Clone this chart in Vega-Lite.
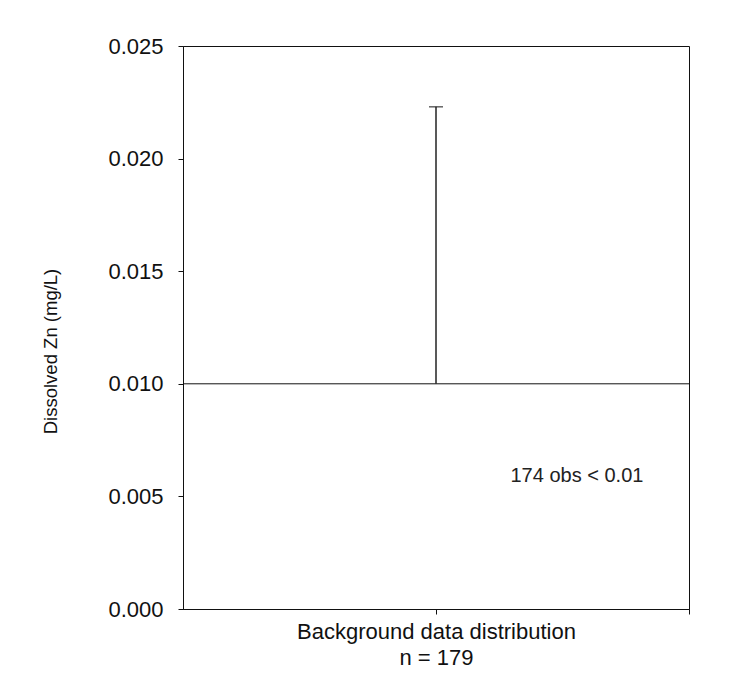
{
  "$schema": "https://vega.github.io/schema/vega-lite/v6.json",
  "width": 506,
  "height": 563,
  "autosize": {"type": "none"},
  "padding": {"left": 183, "top": 46, "right": 67, "bottom": 84},
  "background": "white",
  "config": {
    "font": "Liberation Sans",
    "view": {"stroke": "#111", "strokeWidth": 1},
    "axis": {"grid": false, "domainColor": "#111", "tickColor": "#111", "labelColor": "#111", "titleColor": "#111", "titleFontWeight": "normal"}
  },
  "datasets": {
    "base": [{"y": 0.01}],
    "whisker": [{"x": 1, "ylo": 0.01, "yhi": 0.0223}],
    "note": [{"x": 1.557, "y": 0.0059, "label": "174 obs < 0.01"}]
  },
  "layer": [
    {
      "data": {"name": "base"},
      "mark": {"type": "rule", "color": "#111", "strokeWidth": 1},
      "encoding": {
        "y": {
          "field": "y", "type": "quantitative",
          "scale": {"domain": [0, 0.025], "nice": false, "zero": true},
          "axis": {
            "values": [0, 0.005, 0.01, 0.015, 0.02, 0.025],
            "format": ".3f",
            "tickSize": 5,
            "labelPadding": 15,
            "labelFontSize": 22,
            "title": "Dissolved Zn (mg/L)",
            "titleFontSize": 18.5,
            "titleAngle": -90,
            "titleX": -133,
            "titleY": 305,
            "titleAlign": "center",
            "titleBaseline": "middle"
          }
        }
      }
    },
    {
      "data": {"name": "whisker"},
      "mark": {"type": "rule", "color": "#222", "strokeWidth": 1.5},
      "encoding": {
        "x": {
          "field": "x", "type": "quantitative",
          "scale": {"domain": [0, 2], "nice": false, "zero": false},
          "axis": {
            "values": [1, 2],
            "labels": false,
            "tickSize": 5,
            "title": ["Background data distribution", "n = 179"],
            "titleFontSize": 22,
            "titleLineHeight": 26,
            "titleX": 253,
            "titleY": 12,
            "titleAlign": "center",
            "titleBaseline": "top"
          }
        },
        "y": {"field": "ylo", "type": "quantitative"},
        "y2": {"field": "yhi"}
      }
    },
    {
      "data": {"name": "whisker"},
      "mark": {"type": "tick", "orient": "horizontal", "color": "#222", "size": 14, "thickness": 1.5},
      "encoding": {
        "x": {"field": "x", "type": "quantitative"},
        "y": {"field": "yhi", "type": "quantitative"}
      }
    },
    {
      "data": {"name": "note"},
      "mark": {"type": "text", "fontSize": 20, "color": "#222", "align": "center", "baseline": "middle"},
      "encoding": {
        "x": {"field": "x", "type": "quantitative"},
        "y": {"field": "y", "type": "quantitative"},
        "text": {"field": "label"}
      }
    }
  ]
}
